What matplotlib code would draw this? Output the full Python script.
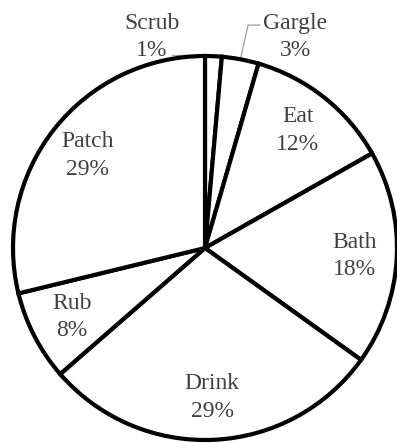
from matplotlib import pyplot as plt
import numpy as np

# wedge shares, clockwise from 12 o'clock
categories = ["Scrub", "Gargle", "Eat", "Bath", "Drink", "Rub", "Patch"]
shares = [1.4, 3.1, 12.3, 18.1, 28.7, 7.6, 28.8]

TEXT_COLOR = "#404040"
LEADER_COLOR = "#a6a6a6"

fig = plt.figure(figsize=(3.97, 4.43), dpi=100)
# pie centre at ~(205, 248) px, radius ~192 px
cx, cy, r = 205 / 397, 1 - 248 / 443, 192
ax = fig.add_axes([cx - r / 397, cy - r / 443, 2 * r / 397, 2 * r / 443])

wedges, _ = ax.pie(shares, startangle=90, counterclock=False,
                   colors=["white"] * len(shares),
                   wedgeprops=dict(edgecolor="black", linewidth=3, clip_on=False))
ax.set_xlim(-1, 1)
ax.set_ylim(-1, 1)
ax.set_aspect("equal")
ax.axis("off")

total = sum(shares)
font = dict(family="Liberation Serif", fontsize=17, color=TEXT_COLOR,
            ha="center", va="center", linespacing=1.4)

for w, name, val in zip(wedges, categories, shares):
    mid = np.deg2rad((w.theta1 + w.theta2) / 2)
    txt = f"{name}\n{val / total * 100:.0f}%"
    edge = (np.cos(mid), np.sin(mid))
    if name == "Scrub":
        tx, ty = -0.276, 1.099
        ax.plot([tx + 0.105, edge[0]], [1.005, 1.005], color=LEADER_COLOR,
                lw=1, clip_on=False, zorder=0)
    elif name == "Gargle":
        tx, ty = 0.469, 1.099
        ax.plot([tx - 0.183, tx - 0.245, edge[0]], [ty + 0.062, ty + 0.062, edge[1]],
                color=LEADER_COLOR, lw=1, clip_on=False, zorder=0)
    else:
        d = 0.78
        tx, ty = d * np.cos(mid), d * np.sin(mid)
    ax.text(tx, ty, txt, clip_on=False, **font)

fig.savefig("out.png", dpi=100)
